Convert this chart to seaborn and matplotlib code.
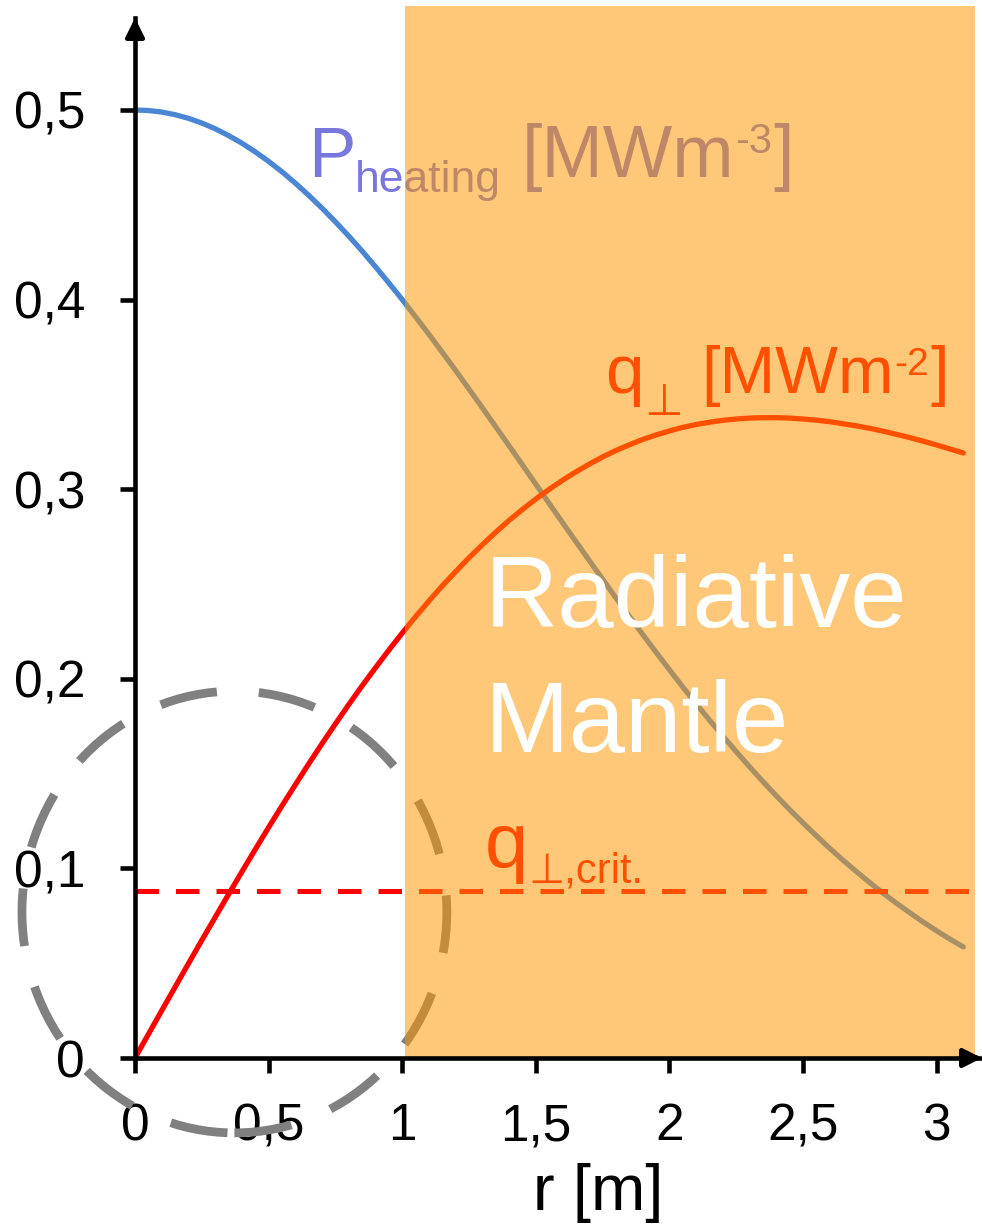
import numpy as np
import pandas as pd
import seaborn as sns
import matplotlib
matplotlib.use("Agg")
import matplotlib.pyplot as plt
from matplotlib.patches import Rectangle, Ellipse

# ---- data ----
r = [0.00, 0.05, 0.10, 0.15, 0.20, 0.25, 0.30, 0.35, 0.40, 0.45, 0.50,
     0.55, 0.60, 0.65, 0.70, 0.75, 0.80, 0.85, 0.90, 0.95, 1.00,
     1.05, 1.10, 1.15, 1.20, 1.25, 1.30, 1.35, 1.40, 1.45, 1.50,
     1.55, 1.60, 1.65, 1.70, 1.75, 1.80, 1.85, 1.90, 1.95, 2.00,
     2.05, 2.10, 2.15, 2.20, 2.25, 2.30, 2.35, 2.40, 2.45, 2.50,
     2.55, 2.60, 2.65, 2.70, 2.75, 2.80, 2.85, 2.90, 2.95, 3.00,
     3.05, 3.10]
p_heating = [0.5000, 0.4997, 0.4989, 0.4975, 0.4956, 0.4931, 0.4901, 0.4865, 0.4825, 0.4779, 0.4729,
             0.4674, 0.4614, 0.4550, 0.4482, 0.4410, 0.4335, 0.4256, 0.4173, 0.4088, 0.4000,
             0.3909, 0.3817, 0.3722, 0.3626, 0.3528, 0.3429, 0.3329, 0.3229, 0.3128, 0.3026,
             0.2925, 0.2824, 0.2724, 0.2624, 0.2525, 0.2426, 0.2330, 0.2234, 0.2140, 0.2048,
             0.1957, 0.1869, 0.1782, 0.1698, 0.1616, 0.1536, 0.1458, 0.1383, 0.1310, 0.1240,
             0.1172, 0.1106, 0.1043, 0.0983, 0.0925, 0.0869, 0.0816, 0.0766, 0.0717, 0.0671,
             0.0627, 0.0586]
q_perp = [0.0000, 0.0125, 0.0250, 0.0374, 0.0498, 0.0621, 0.0742, 0.0863, 0.0982, 0.1100, 0.1216,
          0.1330, 0.1441, 0.1551, 0.1658, 0.1762, 0.1864, 0.1963, 0.2058, 0.2151, 0.2241,
          0.2327, 0.2410, 0.2490, 0.2565, 0.2638, 0.2707, 0.2773, 0.2835, 0.2893, 0.2948,
          0.2999, 0.3047, 0.3091, 0.3132, 0.3170, 0.3204, 0.3234, 0.3262, 0.3286, 0.3307,
          0.3326, 0.3341, 0.3353, 0.3363, 0.3370, 0.3375, 0.3377, 0.3377, 0.3375, 0.3370,
          0.3364, 0.3356, 0.3345, 0.3334, 0.3321, 0.3306, 0.3289, 0.3272, 0.3253, 0.3233,
          0.3212, 0.3191]
qcrit_r = [0.0, 3.13]
qcrit = [0.088, 0.088]
mantle_span = [1.01, 3.142]
xticks = [0, 0.5, 1, 1.5, 2, 2.5, 3]
xtick_labels = ["0", "0,5", "1", "1,5", "2", "2,5", "3"]
yticks = [0, 0.1, 0.2, 0.3, 0.4, 0.5]
ytick_labels = ["0", "0,1", "0,2", "0,3", "0,4", "0,5"]

sns.set_style("white")
FAM = ["Liberation Sans", "DejaVu Sans"]
plt.rcParams["font.family"] = FAM

W, H = 982, 1224
fig = plt.figure(figsize=(W / 100, H / 100), dpi=100)
ax = fig.add_axes([135 / W, 166 / H, 847 / W, 1040 / H])
ax.set_axisbelow(True)

df = pd.DataFrame({"r": r, "P": p_heating, "q": q_perp})
sns.lineplot(data=df, x="r", y="P", ax=ax, color="#4A86D4", lw=3.8, zorder=1)
sns.lineplot(data=df, x="r", y="q", ax=ax, color="#FF0000", lw=3.8, zorder=1)
sns.lineplot(x=qcrit_r, y=qcrit, ax=ax, color="#FF0000", lw=3.6, zorder=1,
             dashes=(4.7, 3.4))

XMAX, YMAX = 3.17, 0.5485
ax.set_xlim(0, XMAX)
ax.set_ylim(0, YMAX)

fig.canvas.draw()
renderer = fig.canvas.get_renderer()


def px2d(px, py):
    return (px - 135) / 847 * XMAX, (1058 - py) / 1040 * YMAX


def chain(px, py, items, color, z=1.5):
    """items: (text, fontsize, dy_px (down positive), gap_px after)"""
    cur = px
    for s, fs, dy, gap in items:
        x, y = px2d(cur, py + dy)
        t = ax.text(x, y, s, fontsize=fs, color=color, va="baseline", ha="left",
                    zorder=z, family=FAM)
        bb = t.get_window_extent(renderer)
        cur = cur + bb.width + gap


# labels (drawn under the overlay)
PUR = "#7878DC"
chain(308, 177, [("P", 51, 0, 0),
                 ("heating", 32, 15, 20),
                 ("[MWm", 53, 0, 1),
                 ("-3", 30, -24, 1),
                 ("]", 53, 0, 0)], PUR)

RED = "#FF0000"
chain(605, 393, [("q", 50, 0, 1),
                 ("⊥", 32, 22, 18),
                 ("[MWm", 48, 0, 1),
                 ("-2", 28, -18, 1),
                 ("]", 48, 0, 0)], RED)

chain(485, 868, [("q", 56, 0, 0),
                 ("⊥,crit.", 30, 15, 0)], RED)

# dashed ellipse
ell = Ellipse((0.372, 0.077), 1.59, 0.233, fill=False, edgecolor="#808080",
              lw=6.3, linestyle=(0, (6.6, 4.8)), zorder=1.8, clip_on=False)
ax.add_patch(ell)

# radiative mantle overlay
rect = Rectangle((mantle_span[0], 0), mantle_span[1] - mantle_span[0], 0.555,
                 facecolor="#FF9800", alpha=0.525, lw=0, zorder=2, clip_on=False)
ax.add_patch(rect)

ax.text(1.31, 0.2273, "Radiative", color="white", fontsize=73,
        va="baseline", ha="left", zorder=3)
ax.text(1.31, 0.1614, "Mantle", color="white", fontsize=73,
        va="baseline", ha="left", zorder=3)

# axes styling
for s in ["top", "right"]:
    ax.spines[s].set_visible(False)
for s in ["left", "bottom"]:
    ax.spines[s].set_linewidth(3.3)
    ax.spines[s].set_color("black")
    ax.spines[s].set_zorder(2.5)

ax.set_xticks(xticks)
ax.set_xticklabels(xtick_labels)
ax.set_yticks(yticks)
ax.set_yticklabels(ytick_labels)
ax.tick_params(axis="both", direction="out", length=11, width=3.3, color="black",
               labelsize=37, labelcolor="black")
ax.tick_params(axis="x", pad=21, bottom=True)
ax.tick_params(axis="y", pad=25, left=True)
ax.set_xlabel("")
ax.set_ylabel("")
ax.grid(False)

ax.text((598 - 135) / 847, (1058 - 1163) / 1040, "r [m]", transform=ax.transAxes,
        fontsize=47, ha="center", va="top", color="black")

# axis arrows
ax.annotate("", xy=(0, 1), xytext=(0, 0.99), xycoords="axes fraction",
            arrowprops=dict(arrowstyle="-|>", color="black", lw=3.3,
                            mutation_scale=28, shrinkA=0, shrinkB=0),
            annotation_clip=False, zorder=2.6)
ax.annotate("", xy=(1, 0), xytext=(0.99, 0), xycoords="axes fraction",
            arrowprops=dict(arrowstyle="-|>", color="black", lw=3.3,
                            mutation_scale=28, shrinkA=0, shrinkB=0),
            annotation_clip=False, zorder=2.6)

fig.savefig("out.png", dpi=100)
